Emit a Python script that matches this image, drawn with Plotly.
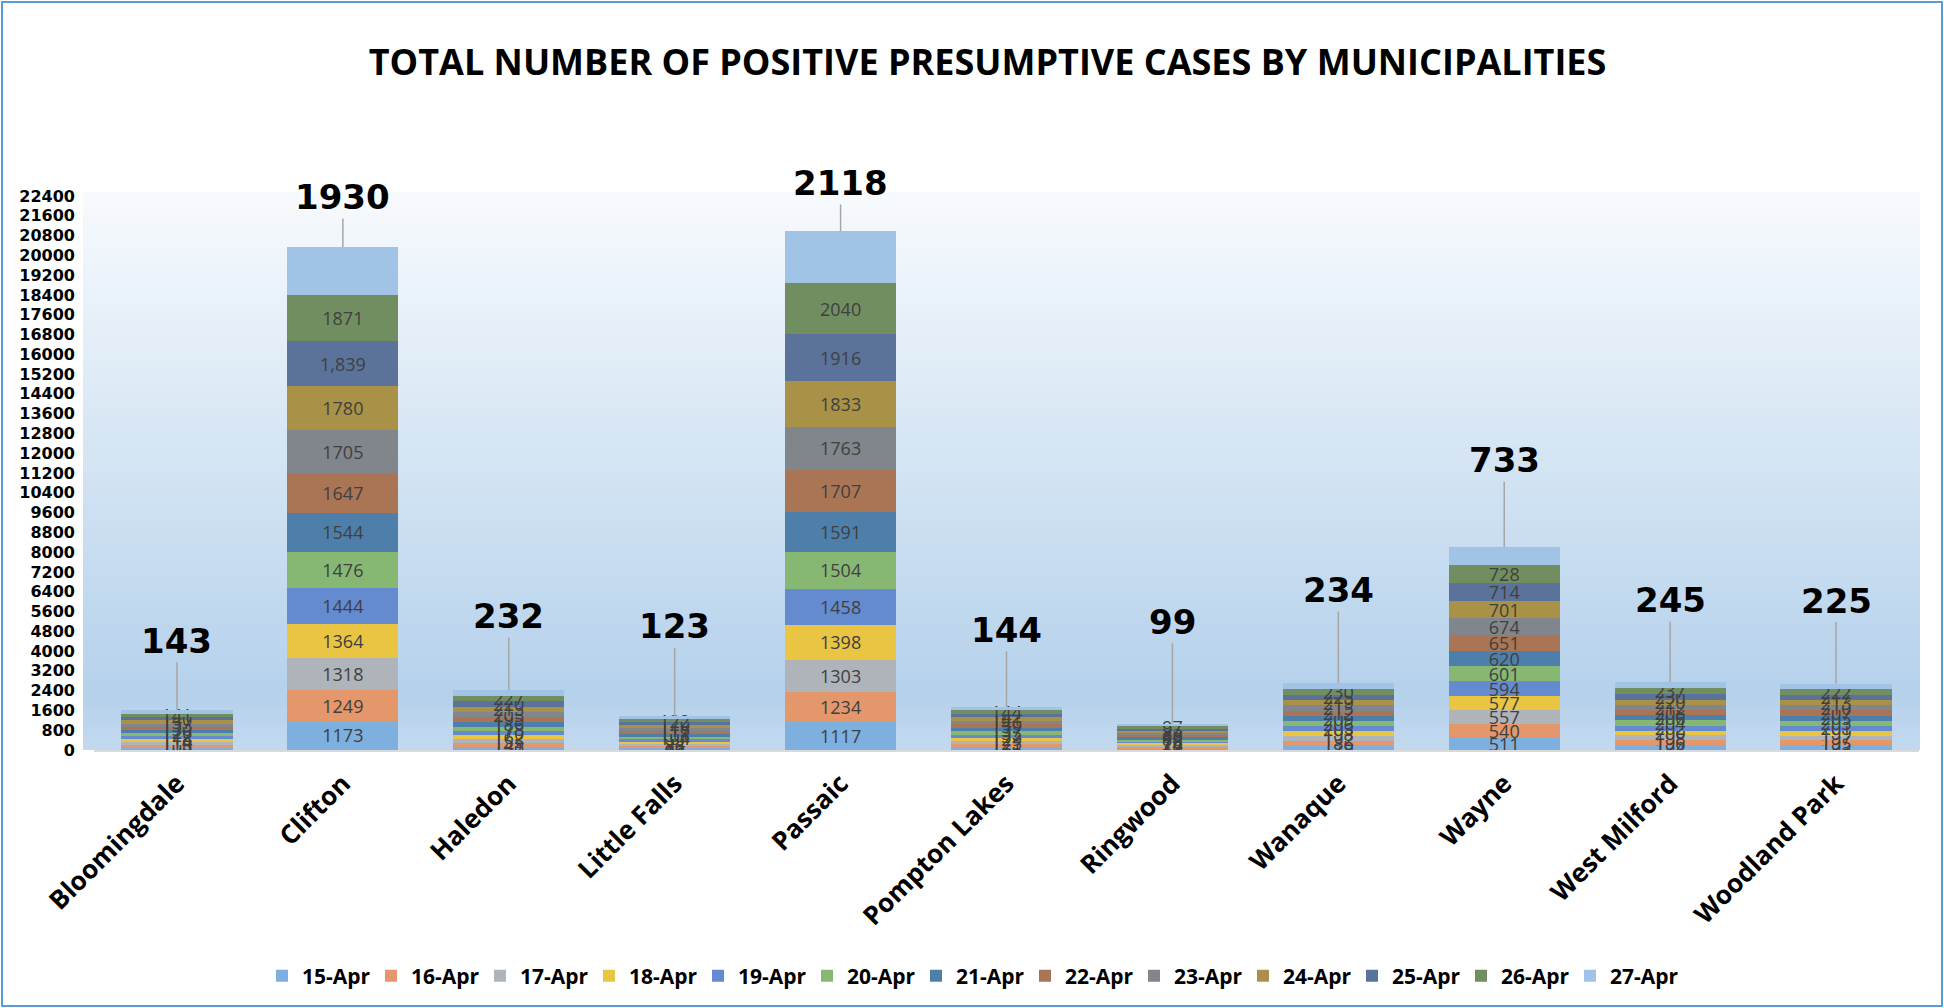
import plotly.graph_objects as go

municipalities = ["Bloomingdale", "Clifton", "Haledon", "Little Falls", "Passaic",
                  "Pompton Lakes", "Ringwood", "Wanaque", "Wayne", "West Milford",
                  "Woodland Park"]
dates = ["15-Apr", "16-Apr", "17-Apr", "18-Apr", "19-Apr", "20-Apr", "21-Apr",
         "22-Apr", "23-Apr", "24-Apr", "25-Apr", "26-Apr", "27-Apr"]

apr15 = [100, 1173, 137, 76, 1117, 116, 68, 179, 511, 194, 193]
apr16 = [105, 1249, 148, 82, 1234, 121, 70, 186, 540, 196, 195]
apr17 = [110, 1318, 155, 88, 1303, 125, 72, 192, 557, 198, 197]
apr18 = [114, 1364, 162, 94, 1398, 129, 74, 198, 577, 200, 199]
apr19 = [118, 1444, 170, 99, 1458, 132, 76, 203, 594, 202, 201]
apr20 = [122, 1476, 178, 104, 1504, 135, 78, 206, 601, 204, 203]
apr21 = [126, 1544, 186, 108, 1591, 137, 80, 209, 620, 206, 205]
apr22 = [130, 1647, 195, 111, 1707, 139, 83, 212, 651, 208, 207]
apr23 = [133, 1705, 205, 115, 1763, 140, 86, 215, 674, 212, 210]
apr24 = [137, 1780, 213, 118, 1833, 141, 89, 219, 701, 220, 213]
apr25 = [140, 1839, 220, 120, 1916, 142, 93, 225, 714, 230, 217]
apr26 = [141, 1871, 227, 122, 2040, 144, 97, 230, 728, 237, 222]
apr27 = [143, 1930, 232, 123, 2118, 144, 99, 234, 733, 245, 225]

series = [apr15, apr16, apr17, apr18, apr19, apr20, apr21,
          apr22, apr23, apr24, apr25, apr26, apr27]

y_tick_values = list(range(0, 22401, 800))
y_tick_labels = [str(v) for v in y_tick_values]

# label overrides as printed in the source chart
label_overrides = {("25-Apr", "Clifton"): "1,839"}

colors = ["#7DAFDF", "#E3976A", "#AEB4BA", "#EAC443", "#648BCF", "#86B874",
          "#4E7FAA", "#A97554", "#80868B", "#A99247", "#5B739A", "#708E60",
          "#A0C3E6"]

# pixel offset of the big callout labels above each bar (styling)
callout_offsets = [69, 50, 74, 90, 48, 77, 102, 93, 87, 82, 83]

fig = go.Figure()
for i, (d, vals) in enumerate(zip(dates, series)):
    last = (i == len(dates) - 1)
    texts = None
    if not last:
        texts = [label_overrides.get((d, m), str(v)) for m, v in zip(municipalities, vals)]
    fig.add_trace(go.Bar(
        name=d, x=municipalities, y=vals,
        marker=dict(color=colors[i], line=dict(width=0)),
        text=texts,
        textposition="inside" if not last else "none",
        insidetextanchor="middle",
        textangle=0,
        constraintext="none",
        textfont=dict(family="Open Sans", size=18, color="#404040"),
        hoverinfo="x+y+name",
    ))

totals = [sum(s[j] for s in series) for j in range(len(municipalities))]

annotations = []
for j, m in enumerate(municipalities):
    annotations.append(dict(
        x=m, y=totals[j], xref="x", yref="y",
        text="<b>" + str(apr27[j]) + "</b>", showarrow=True, ax=0, ay=-callout_offsets[j],
        arrowhead=0, arrowwidth=1.5, arrowcolor="#A6A6A6", standoff=0,
        font=dict(family="DejaVu Sans", size=34, color="#000000"),
    ))

W, H = 1944, 1008
ml, mr, mt, mb = 94, 25, 196, 258
pw, ph = W - ml - mr, H - mt - mb

# background gradient strips in plot area (styling only)
def mix(c1, c2, t):
    a = [int(c1[k:k + 2], 16) for k in (1, 3, 5)]
    b = [int(c2[k:k + 2], 16) for k in (1, 3, 5)]
    return "rgb(%d,%d,%d)" % tuple(round(a[k] + (b[k] - a[k]) * t) for k in range(3))

shapes = []
n = 80
top = (ph + 4) / ph
xl, xr = -11 / pw, 1 + 1 / pw
for k in range(n):
    y0 = top * k / n
    y1 = top * (k + 1) / n + 0.002
    t = (k + 0.5) / n
    if t < 0.1:
        col = mix("#C3D9EF", "#B5D1EB", t / 0.1)
    else:
        col = mix("#B5D1EB", "#F7FAFD", (t - 0.1) / 0.9)
    shapes.append(dict(type="rect", xref="paper", yref="paper", x0=xl, x1=xr,
                       y0=y0, y1=min(y1, top), fillcolor=col, line=dict(width=0),
                       layer="below"))
# figure border
shapes.append(dict(type="rect", xref="paper", yref="paper",
                   x0=-(ml - 2) / pw, x1=1 + (mr - 2) / pw,
                   y0=-(mb - 2) / ph, y1=1 + (mt - 2) / ph,
                   line=dict(color="#5B9BD5", width=2), layer="above"))

fig.update_layout(
    width=W, height=H,
    barmode="stack", bargap=0.33,
    paper_bgcolor="white", plot_bgcolor="rgba(0,0,0,0)",
    margin=dict(l=ml, r=mr, t=mt, b=mb, autoexpand=False),
    title=dict(text="<b>TOTAL NUMBER OF POSITIVE PRESUMPTIVE CASES BY MUNICIPALITIES</b>",
               x=0.508, xanchor="center", y=1 - 62 / H, yanchor="middle",
               yref="container",
               font=dict(family="Open Sans", size=36, color="#000000")),
    uniformtext=dict(minsize=18, mode="show"),
    xaxis=dict(type="category", tickangle=-45, showgrid=False,
               showline=True, linecolor="#D9D9D9", linewidth=2, ticks="",
               tickfont=dict(family="Open Sans", size=26, color="#000000", weight="bold"),
               ticklabelstandoff=6),
    yaxis=dict(range=[0, 22400], tickmode="array",
               tickvals=y_tick_values, ticktext=y_tick_labels,
               showgrid=False, zeroline=False, showline=False, ticks="",
               tickfont=dict(family="DejaVu Sans", size=16, color="#000000", weight="bold"),
               ticklabelstandoff=18),
    legend=dict(orientation="h", x=(262 - ml) / pw, xanchor="left", y=1 - 976 / H,
                yanchor="middle", yref="container",
                font=dict(family="Open Sans", size=21, color="#000000", weight="bold"),
                traceorder="normal", entrywidth=64, entrywidthmode="pixels",
                itemwidth=30, bgcolor="rgba(0,0,0,0)"),
    annotations=annotations,
    shapes=shapes,
    showlegend=True,
)

fig.write_html("out.html", config={"displayModeBar": False},
               post_script="document.body.style.margin='0';document.body.style.overflow='hidden';")
